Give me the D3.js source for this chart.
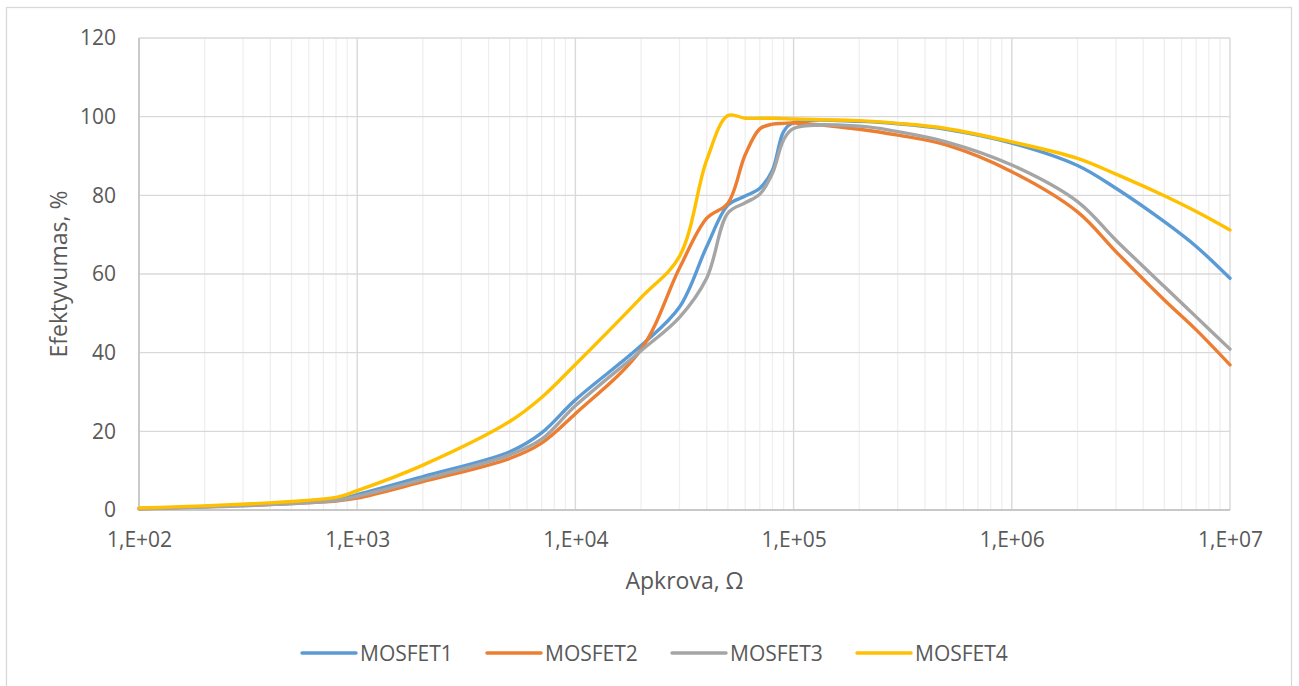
<!DOCTYPE html>
<html>
<head>
<meta charset="utf-8">
<script src="https://cdn.jsdelivr.net/npm/d3@7"></script>
<style>
  html, body { margin: 0; padding: 0; background: #ffffff; }
  svg { display: block; font-family: "Open Sans", "Noto Sans", sans-serif; }
</style>
</head>
<body>
<svg id="chart" width="1299" height="686"></svg>
<script>
// Load resistance, Ω
const resistance = [1e2, 8e2, 1e3, 2e3, 5e3, 7e3, 1e4, 2e4, 3e4, 4e4, 5e4, 6e4, 7e4, 8e4, 9e4,
                    1e5, 2e5, 3e5, 5e5, 1e6, 2e6, 3e6, 5e6, 7e6, 1e7];

// Efficiency, %
const mosfet1 = [0.4, 2.6, 3.9, 8.5, 14.8, 19.6, 28.0, 41.8, 51.6, 67.0, 77.5, 79.8, 81.8, 86.4, 96.2,
                 98.5, 98.8, 98.2, 96.8, 93.3, 87.6, 81.8, 73.3, 67.0, 58.9];
const mosfet2 = [0.3, 2.3, 3.0, 7.2, 13.1, 17.0, 24.5, 40.8, 61.5, 74.2, 78.0, 90.3, 96.9, 98.1, 98.3,
                 98.4, 96.8, 95.3, 92.8, 86.0, 75.8, 65.7, 53.4, 45.8, 36.9];
const mosfet3 = [0.3, 2.4, 3.5, 7.8, 14.0, 18.0, 26.5, 40.5, 49.0, 59.0, 75.5, 78.1, 80.3, 85.6, 94.1,
                 97.0, 97.6, 96.2, 93.6, 87.7, 78.4, 68.6, 56.8, 49.1, 40.9];
const mosfet4 = [0.5, 3.2, 4.9, 11.4, 22.5, 28.6, 37.0, 54.0, 64.5, 89.0, 100.3, 99.6, 99.6, 99.6, 99.5,
                 99.4, 99.0, 98.3, 97.0, 93.6, 89.4, 85.4, 79.9, 75.9, 71.2];

const seriesNames = ["MOSFET1", "MOSFET2", "MOSFET3", "MOSFET4"];
const seriesValues = [mosfet1, mosfet2, mosfet3, mosfet4];
const seriesColors = ["#5B9BD5", "#ED7D31", "#A5A5A5", "#FFC000"];

const xTicks = [1e2, 1e3, 1e4, 1e5, 1e6, 1e7];
const xTickLabels = ["1,E+02", "1,E+03", "1,E+04", "1,E+05", "1,E+06", "1,E+07"];
const yTicks = [0, 20, 40, 60, 80, 100, 120];

const xTitle = "Apkrova, Ω";
const yTitle = "Efektyvumas, %";

const svg = d3.select("#chart");
const textColor = "#595959";

// Chart frame
svg.append("rect")
  .attr("x", 6.5).attr("y", 7.5)
  .attr("width", 1285).attr("height", 690)
  .attr("fill", "#ffffff")
  .attr("stroke", "#d9d9d9").attr("stroke-width", 1.3);

const plot = { left: 139, right: 1230, top: 38, bottom: 510 };

const x = d3.scaleLog().domain([1e2, 1e7]).range([plot.left, plot.right]);
const y = d3.scaleLinear().domain([0, 120]).range([plot.bottom, plot.top]);

// Minor vertical gridlines (2..9 within each decade)
const minor = [];
for (let e = 2; e < 7; e++) {
  for (let m = 2; m <= 9; m++) minor.push(m * Math.pow(10, e));
}
svg.append("g").selectAll("line").data(minor).join("line")
  .attr("x1", d => x(d)).attr("x2", d => x(d))
  .attr("y1", plot.top).attr("y2", plot.bottom)
  .attr("stroke", "#efefef").attr("stroke-width", 1.3);

// Major gridlines
svg.append("g").selectAll("line").data(xTicks).join("line")
  .attr("x1", d => x(d)).attr("x2", d => x(d))
  .attr("y1", plot.top).attr("y2", plot.bottom)
  .attr("stroke", "#d9d9d9").attr("stroke-width", 1.4);
svg.append("g").selectAll("line").data(yTicks).join("line")
  .attr("x1", plot.left).attr("x2", plot.right)
  .attr("y1", d => y(d)).attr("y2", d => y(d))
  .attr("stroke", "#d9d9d9").attr("stroke-width", 1.4);

// Axis lines
svg.append("line")
  .attr("x1", plot.left).attr("x2", plot.left)
  .attr("y1", plot.top).attr("y2", plot.bottom)
  .attr("stroke", "#bfbfbf").attr("stroke-width", 1.4);
svg.append("line")
  .attr("x1", plot.left).attr("x2", plot.right)
  .attr("y1", plot.bottom).attr("y2", plot.bottom)
  .attr("stroke", "#bfbfbf").attr("stroke-width", 1.4);

// Tick labels through d3 axes
const xAxis = d3.axisBottom(x)
  .tickValues(xTicks)
  .tickFormat((d, i) => xTickLabels[i])
  .tickSize(0).tickPadding(0);
const gx = svg.append("g").attr("transform", `translate(0,${plot.bottom + 22})`).call(xAxis);
gx.select(".domain").remove();
gx.selectAll("text")
  .attr("dy", "0.71em")
  .attr("fill", textColor)
  .style("font-size", "21px")
  .style("font-family", "'Open Sans', sans-serif");

const yAxis = d3.axisLeft(y).tickValues(yTicks).tickFormat(d3.format("d")).tickSize(0).tickPadding(0);
const gy = svg.append("g").attr("transform", `translate(${plot.left - 23},0)`).call(yAxis);
gy.select(".domain").remove();
gy.selectAll("text")
  .attr("fill", textColor)
  .style("font-size", "21px")
  .style("font-family", "'Open Sans', sans-serif");

// Axis titles
svg.append("text")
  .attr("x", (plot.left + plot.right) / 2).attr("y", 580)
  .attr("text-anchor", "middle").attr("dominant-baseline", "central")
  .attr("fill", textColor).style("font-size", "23px")
  .text(xTitle);
svg.append("text")
  .attr("transform", `translate(58,${(plot.top + plot.bottom) / 2}) rotate(-90)`)
  .attr("text-anchor", "middle").attr("dominant-baseline", "central")
  .attr("fill", textColor).style("font-size", "23px")
  .text(yTitle);

// Series lines
const line = d3.line()
  .x(d => x(d[0]))
  .y(d => y(d[1]))
  .curve(d3.curveCatmullRom.alpha(0.5));

const lines = svg.append("g")
  .attr("fill", "none")
  .attr("stroke-width", 3.4)
  .attr("stroke-linejoin", "round")
  .attr("stroke-linecap", "round");
seriesValues.forEach((vals, i) => {
  lines.append("path")
    .datum(resistance.map((r, k) => [r, vals[k]]))
    .attr("stroke", seriesColors[i])
    .attr("d", line);
});

// Legend
const legend = svg.append("g").attr("transform", "translate(302,653)");
seriesNames.forEach((name, i) => {
  const g = legend.append("g").attr("transform", `translate(${i * 185},0)`);
  g.append("line")
    .attr("x1", 0).attr("x2", 54).attr("y1", 0).attr("y2", 0)
    .attr("stroke", seriesColors[i]).attr("stroke-width", 3.4)
    .attr("stroke-linecap", "round");
  g.append("text")
    .attr("x", 58).attr("y", 0)
    .attr("dominant-baseline", "central")
    .attr("fill", textColor).style("font-size", "21px")
    .text(name);
});
</script>
</body>
</html>
